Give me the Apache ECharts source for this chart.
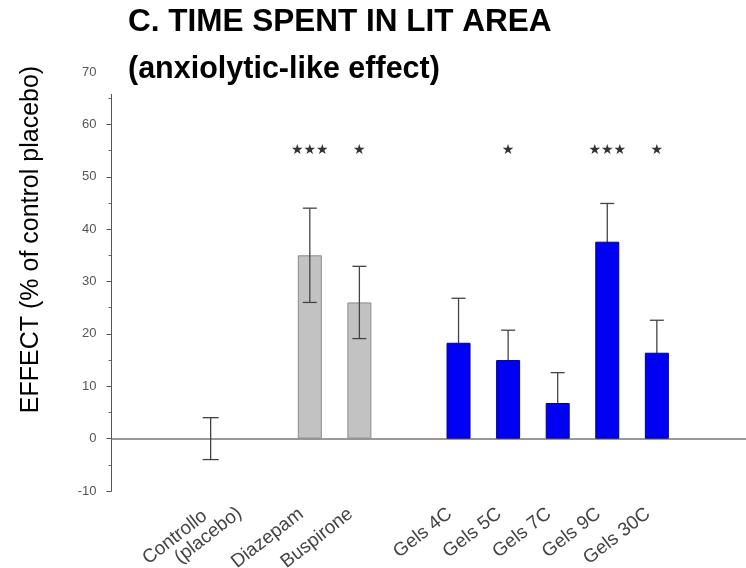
<!DOCTYPE html>
<html>
<head>
<meta charset="utf-8">
<script src="https://cdn.jsdelivr.net/npm/echarts@6/dist/echarts.min.js"></script>
<style>
  html, body { margin: 0; padding: 0; background: #fff; }
  #chart { width: 746px; height: 568px; }
</style>
</head>
<body>
<div id="chart"></div>
<script>
// ---- data ----
const categories = ['Controllo\n(placebo)', 'Diazepam', 'Buspirone', 'Gels 4C', 'Gels 5C', 'Gels 7C', 'Gels 9C', 'Gels 30C'];
const groups = ['control', 'reference', 'reference', 'gels', 'gels', 'gels', 'gels', 'gels'];
const effect = [0, 35.0, 26.0, 18.3, 15.0, 6.8, 37.6, 16.4];
const errors = [4.0, 9.0, 6.9, 8.5, 5.7, 5.8, 7.3, 6.2];
const significance = ['', '***', '*', '', '*', '', '***', '*'];
const yTickValues = [-10, 0, 10, 20, 30, 40, 50, 60, 70];

const FONT = "'Liberation Sans', Arial, Helvetica, sans-serif";

// ---- build axis slots (blank slots separate groups) ----
const slots = ['', ''];
const slotOf = [];
categories.forEach((c, i) => {
  if (i > 0 && groups[i] !== groups[i - 1]) slots.push('');
  slotOf.push(slots.length);
  slots.push(c);
});
slots.push('', '');

const greyData = slots.map(() => '-');
const blueData = slots.map(() => '-');
categories.forEach((c, i) => {
  if (groups[i] === 'gels') blueData[slotOf[i]] = effect[i];
  else if (groups[i] === 'reference') greyData[slotOf[i]] = effect[i];
});
const errData = categories.map((c, i) => [slotOf[i], effect[i], errors[i], groups[i] === 'control' ? 8 : 7]);
const sigData = categories.map((c, i) => [slotOf[i], 55, significance[i]]).filter(d => d[2]);

const chart = echarts.init(document.getElementById('chart'), null, { renderer: 'canvas' });

const option = {
  backgroundColor: '#fff',
  animation: false,
  title: {
    text: '{l1|C. TIME SPENT IN LIT AREA}\n{l2|(anxiolytic-like effect)}',
    left: 100,
    top: -4,
    padding: [2, 10, 0, 28],
    backgroundColor: '#fff',
    z: 10,
    textStyle: {
      fontFamily: FONT,
      fontSize: 31.5,
      fontWeight: 'bold',
      color: '#000',
      lineHeight: 48,
      rich: {
        l1: { fontFamily: FONT, fontSize: 31.5, fontWeight: 'bold', color: '#000', lineHeight: 48 },
        l2: { fontFamily: FONT, fontSize: 30.5, fontWeight: 'bold', color: '#000', lineHeight: 48 }
      }
    }
  },
  grid: {
    left: 111.5,
    right: -10,
    top: 72,
    bottom: 77,
    containLabel: false,
    outerBoundsMode: 'none'
  },
  xAxis: {
    type: 'category',
    data: slots,
    boundaryGap: false,
    axisLine: { onZero: true, lineStyle: { color: '#777', width: 1.5 } },
    axisTick: { show: false },
    splitLine: { show: false },
    axisLabel: {
      interval: 0,
      rotate: 38,
      margin: 14,
      padding: [0, 11, 0, 0],
      fontFamily: FONT,
      fontSize: 19,
      color: '#444',
      formatter: function (v) {
        if (v.indexOf('\n') >= 0) {
          const parts = v.split('\n');
          return '{a|' + parts[0] + '}\n{b|' + parts[1] + '}';
        }
        return v;
      },
      rich: {
        a: { fontFamily: FONT, fontSize: 19, color: '#444', padding: [26, -1, 0, 0] },
        b: { fontFamily: FONT, fontSize: 19, color: '#444', padding: [0, -30, 0, 0] }
      }
    }
  },
  yAxis: {
    type: 'value',
    min: -10,
    max: 70,
    interval: 10,
    name: 'EFFECT (% of control placebo)',
    nameLocation: 'middle',
    nameGap: 68,
    nameTextStyle: {
      fontFamily: FONT,
      fontSize: 25,
      color: '#000',
      padding: [0, 0, 0, 84]
    },
    axisLine: { show: true, lineStyle: { color: '#555', width: 1 } },
    axisTick: { show: true, length: 5, lineStyle: { color: '#555' } },
    minorTick: { show: true, splitNumber: 2, length: 3, lineStyle: { color: '#666' } },
    splitLine: { show: false },
    minorSplitLine: { show: false },
    axisLabel: {
      fontFamily: FONT,
      fontSize: 13,
      color: '#555',
      margin: 15,
      customValues: yTickValues
    }
  },
  series: [
    {
      name: 'reference',
      type: 'bar',
      data: greyData,
      barWidth: 24,
      barGap: '-100%',
      z: 1,
      itemStyle: { color: '#c2c2c2', borderColor: '#8a8a8a', borderWidth: 1 }
    },
    {
      name: 'errors',
      type: 'custom',
      z: 2,
      data: errData,
      renderItem: function (params, api) {
        const x = api.value(0), v = api.value(1), e = api.value(2), hw = api.value(3);
        const top = api.coord([x, v + e]);
        const bot = api.coord([x, v - e]);
        const style = { stroke: '#444', lineWidth: 1.3, fill: null };
        return {
          type: 'group',
          children: [
            { type: 'line', shape: { x1: top[0], y1: top[1], x2: bot[0], y2: bot[1] }, style: style },
            { type: 'line', shape: { x1: top[0] - hw, y1: top[1], x2: top[0] + hw, y2: top[1] }, style: style },
            { type: 'line', shape: { x1: bot[0] - hw, y1: bot[1], x2: bot[0] + hw, y2: bot[1] }, style: style }
          ]
        };
      }
    },
    {
      name: 'gels',
      type: 'bar',
      data: blueData,
      barWidth: 24,
      barGap: '-100%',
      z: 3,
      itemStyle: { color: '#0000f2', borderColor: '#00008a', borderWidth: 1 }
    },
    {
      name: 'significance',
      type: 'custom',
      z: 4,
      data: sigData,
      renderItem: function (params, api) {
        const p = api.coord([api.value(0), api.value(1)]);
        const s = sigData[params.dataIndex][2].replace(/\*/g, '\u2605');
        return {
          type: 'text',
          x: p[0],
          y: p[1],
          style: {
            text: s,
            fontFamily: "'DejaVu Sans', sans-serif",
            fontSize: 14,
            fill: '#333',
            align: 'center',
            verticalAlign: 'middle'
          }
        };
      }
    }
  ]
};
chart.setOption(option);
</script>
</body>
</html>
